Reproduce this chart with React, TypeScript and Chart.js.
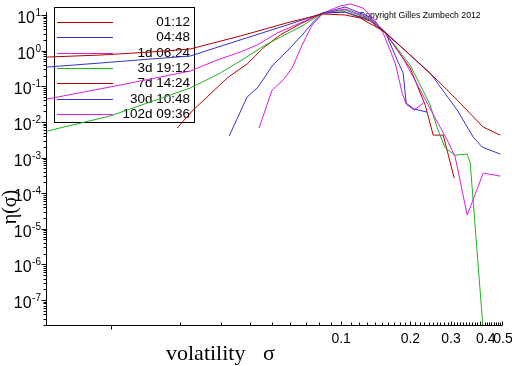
import React, { useEffect, useRef } from "react";
import { Chart, registerables } from "chart.js";

Chart.register(...registerables);

// ---- data ----
const seriesLabels = ["01:12", "04:48", "1d 06:24", "3d 19:12", "7d 14:24", "30d 10:48", "102d 09:36"];
const seriesColors = ["#b40000", "#3434cc", "#dc1edc", "#1eb41e", "#b40000", "#3434cc", "#dc1edc"];

const sigma0112 = [0.00527, 0.00896, 0.01479, 0.02206, 0.0364, 0.06, 0.0835, 0.1041, 0.121, 0.1522, 0.1995, 0.2615, 0.3194, 0.4143, 0.4913];
const eta0112 = [0.661, 0.752, 0.914, 1.11, 2.57, 6.36, 10.7, 10, 8.24, 3.55, 0.752, 0.149, 0.0409, 0.00714, 0.00426];

const sigma0448 = [0.00527, 0.00896, 0.01479, 0.02206, 0.0364, 0.06, 0.0835, 0.1041, 0.1337, 0.1554, 0.1995, 0.2438, 0.3194, 0.3749, 0.4102, 0.4913];
const eta0448 = [0.346, 0.449, 0.58, 0.705, 1.99, 5.59, 11.4, 12.1, 7.24, 3.33, 0.752, 0.235, 0.0214, 0.00374, 0.00196, 0.00125];

const sigma1d = [0.00527, 0.01094, 0.02206, 0.0289, 0.0364, 0.04315, 0.0527, 0.0663, 0.0835, 0.1041, 0.1337, 0.1554, 0.1898, 0.2206, 0.2563, 0.2891, 0.3131, 0.3531, 0.4143, 0.4913];
const eta1d = [0.0437, 0.108, 0.267, 0.544, 0.914, 1.44, 3.12, 5.96, 11.4, 14.7, 8.24, 3.33, 0.478, 0.0782, 0.0128, 0.00308, 0.00103, 2.41e-5, 3.65e-4, 3.01e-4];

const sigma3d = [0.00527, 0.0099, 0.02206, 0.0298, 0.03825, 0.04674, 0.0663, 0.0835, 0.1041, 0.1337, 0.1554, 0.1995, 0.2438, 0.2615, 0.2833, 0.3131, 0.3531, 0.3639, 0.4143];
const eta3d = [0.00552, 0.0146, 0.0891, 0.235, 0.619, 1.44, 4.6, 11.4, 13.8, 7.72, 3.12, 0.394, 0.0296, 0.0067, 0.00184, 0.00117, 0.00125, 0.000697, 1.4e-8];

const sigma7d = [0.01936, 0.02272, 0.02615, 0.03194, 0.03903, 0.04581, 0.0543, 0.0663, 0.0835, 0.1041, 0.1337, 0.1554, 0.1995, 0.2319, 0.2512, 0.2777, 0.3099];
const eta7d = [0.0067, 0.0214, 0.0498, 0.17, 0.421, 1.18, 2.74, 5.59, 11.4, 12.1, 6.78, 3.12, 0.324, 0.0296, 0.00426, 0.00426, 0.000264];

const sigma30d = [0.0326, 0.03903, 0.04355, 0.0501, 0.0588, 0.0677, 0.0756, 0.0835, 0.1041, 0.1337, 0.1554, 0.1752, 0.186, 0.1917, 0.2077, 0.2366];
const eta30d = [0.00399, 0.0498, 0.095, 0.369, 1.04, 2.74, 6.36, 11.4, 16.8, 8.78, 3.33, 0.544, 0.235, 0.0337, 0.0229, 0.0188];

const sigma102d = [0.04399, 0.0501, 0.056, 0.0612, 0.0677, 0.0748, 0.0835, 0.099, 0.1094, 0.1246, 0.1378, 0.1522, 0.1717, 0.1842, 0.1917, 0.2077, 0.2273];
const eta102d = [0.0067, 0.0782, 0.149, 0.324, 1.44, 5.24, 11.4, 17.9, 20.4, 15.7, 8.24, 3.12, 0.449, 0.0644, 0.0316, 0.0214, 0.0337];

const allSigma = [sigma0112, sigma0448, sigma1d, sigma3d, sigma7d, sigma30d, sigma102d];
const allEta = [eta0112, eta0448, eta1d, eta3d, eta7d, eta30d, eta102d];

const xMin = 0.00527;
const xMax = 0.5;
const yMin = 1.99e-8;
const yMax = 26.4;

const xTickLabels = ["0.1", "0.2", "0.3", "0.4", "0.5"];
const xMajorTicks = [0.1, 0.2, 0.3, 0.4, 0.5];
const yTickExponents = [1, 0, -1, -2, -3, -4, -5, -6, -7];

const xTitle = "volatility";
const xTitleSymbol = "σ";
const yTitle = "η(σ)";
const copyright = "Copyright Gilles Zumbech 2012";

const SANS = '"Liberation Sans", Arial, sans-serif';
const SERIF = '"Liberation Serif", "Times New Roman", serif';

const maplePlugin = {
  id: "mapleAxes",
  beforeDatasetsDraw(chart: any) {
    const ctx = chart.ctx as CanvasRenderingContext2D;
    const xs = chart.scales.x;
    const ys = chart.scales.y;
    const area = chart.chartArea;
    ctx.save();
    ctx.strokeStyle = "#000";
    ctx.fillStyle = "#000";
    ctx.lineWidth = 1;

    const ax = Math.round(area.left) - 0.5;
    const ay = Math.round(area.bottom) + 0.5;
    const yTop = ys.getPixelForValue(10) - 3;

    // axis lines
    ctx.beginPath();
    ctx.moveTo(ax, yTop);
    ctx.lineTo(ax, ay);
    ctx.lineTo(Math.round(area.right) + 0.5, ay);
    ctx.stroke();

    // y ticks
    ctx.beginPath();
    for (let e = -8; e <= 1; e++) {
      for (let m = 1; m <= 9; m++) {
        const v = m * Math.pow(10, e);
        if (v < yMin || v > 10.0001) continue;
        const py = Math.round(ys.getPixelForValue(v)) + 0.5;
        const len = m === 1 ? 5 : 3;
        ctx.moveTo(ax - len, py);
        ctx.lineTo(ax, py);
      }
    }
    ctx.stroke();

    // y labels 10^n
    for (const e of yTickExponents) {
      const py = ys.getPixelForValue(Math.pow(10, e));
      const expStr = String(e);
      ctx.font = `10px ${SANS}`;
      ctx.textAlign = "right";
      ctx.textBaseline = "alphabetic";
      const ew = ctx.measureText(expStr).width;
      const right = 41;
      ctx.fillText(expStr, right, py + 1);
      ctx.font = `16px ${SANS}`;
      ctx.fillText("10", right - ew - 0.5, py + 8);
    }

    // x ticks (minor upward, major upward longer)
    ctx.beginPath();
    const minorX: number[] = [];
    for (let k = 2; k <= 9; k++) minorX.push(k / 100);
    for (let k = 11; k <= 49; k++) if (k % 10 !== 0) minorX.push(k / 100);
    for (const v of minorX) {
      const px = Math.round(xs.getPixelForValue(v)) + 0.5;
      ctx.moveTo(px, ay);
      ctx.lineTo(px, ay - 3);
    }
    for (const v of xMajorTicks) {
      const px = Math.round(xs.getPixelForValue(v)) + 0.5;
      ctx.moveTo(px, ay);
      ctx.lineTo(px, ay - 4);
    }
    {
      const px = Math.round(xs.getPixelForValue(0.01)) + 0.5;
      ctx.moveTo(px, ay);
      ctx.lineTo(px, ay + 4);
    }
    ctx.stroke();

    // x labels
    const xLabelShift = [0, 0, 0, 6, 1];
    ctx.font = `14px ${SANS}`;
    ctx.textAlign = "center";
    ctx.textBaseline = "alphabetic";
    xMajorTicks.forEach((v, i) => {
      const px = xs.getPixelForValue(v) + xLabelShift[i];
      ctx.fillText(xTickLabels[i], px, 343);
    });

    // axis titles
    ctx.font = `22px ${SERIF}`;
    ctx.textAlign = "left";
    ctx.fillText(xTitle, 166, 360);
    ctx.fillText(xTitleSymbol, 263, 360);

    ctx.save();
    ctx.translate(11, 207);
    ctx.rotate(-Math.PI / 2);
    ctx.textAlign = "center";
    ctx.textBaseline = "middle";
    ctx.font = `20px ${SERIF}`;
    ctx.fillText(yTitle, 0, 0);
    ctx.restore();

    // copyright
    ctx.font = `8.7px ${SANS}`;
    ctx.textAlign = "left";
    ctx.textBaseline = "alphabetic";
    ctx.fillText(copyright, 359, 18);

    // legend
    ctx.strokeStyle = "#000";
    ctx.strokeRect(54.5, 7.5, 140, 115);
    ctx.font = `13.5px ${SANS}`;
    ctx.textAlign = "right";
    ctx.textBaseline = "middle";
    seriesLabels.forEach((lab, i) => {
      const ry = Math.round(22 + i * 15.35) + 0.5;
      ctx.strokeStyle = seriesColors[i];
      ctx.beginPath();
      ctx.moveTo(57, ry);
      ctx.lineTo(113, ry);
      ctx.stroke();
      ctx.fillStyle = "#000";
      ctx.fillText(lab, 190, ry);
    });

    ctx.restore();
  },
};

export default function App() {
  const ref = useRef<HTMLCanvasElement | null>(null);

  useEffect(() => {
    if (!ref.current) return;
    const datasets = allSigma.map((xs, i) => ({
      label: seriesLabels[i],
      data: xs.map((x, j) => ({ x, y: allEta[i][j] })),
      borderColor: seriesColors[i],
      backgroundColor: seriesColors[i],
      borderWidth: 1,
      pointRadius: 0,
      tension: 0,
      fill: false,
    }));
    const chart = new Chart(ref.current, {
      type: "line",
      data: { datasets },
      options: {
        responsive: false,
        animation: false,
        devicePixelRatio: 1,
        parsing: false as any,
        normalized: true,
        layout: { padding: { left: 47, right: 10, top: 0, bottom: 41 } },
        plugins: { legend: { display: false }, tooltip: { enabled: false } },
        scales: {
          x: { type: "logarithmic", min: xMin, max: xMax, display: false },
          y: { type: "logarithmic", min: yMin, max: yMax, display: false },
        },
      },
      plugins: [maplePlugin],
    });
    return () => chart.destroy();
  }, []);

  return (
    <div style={{ position: "absolute", left: 0, top: 0, width: 512, height: 366, background: "#fff" }}>
      <canvas ref={ref} width={512} height={366} style={{ display: "block" }} />
    </div>
  );
}
